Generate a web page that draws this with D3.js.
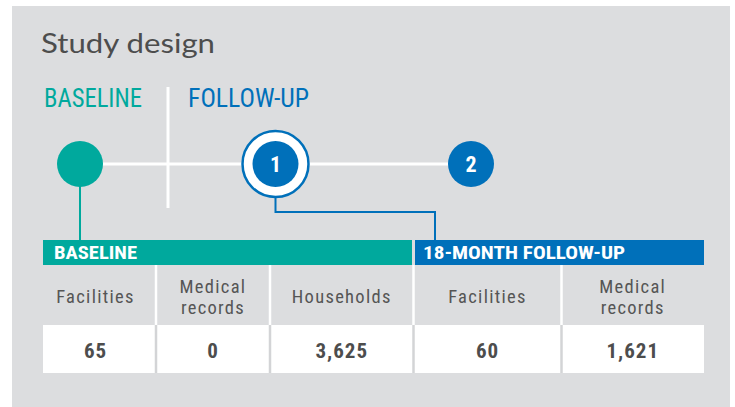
<!DOCTYPE html>
<html><head><meta charset="utf-8">
<script src="https://cdn.jsdelivr.net/npm/d3@7"></script>
<style>
html,body{margin:0;padding:0;background:#fff;}
svg{display:block;}
</style></head>
<body>
<script>
// ---- data ----
const title = "Study design";
const phases = ["BASELINE", "FOLLOW-UP"];
const timepoints = ["baseline", "1", "2"];
const groups = ["BASELINE", "18-MONTH FOLLOW-UP"];
const columnGroup = [0, 0, 0, 1, 1];
const columnLabels = [["Facilities"], ["Medical", "records"], ["Households"], ["Facilities"], ["Medical", "records"]];
const values = [65, 0, 3625, 60, 1621];

// ---- style/layout ----
const W = 735, H = 407;
const TEAL = "#00A99D", BLUE = "#0070BA", PANEL = "#DCDDDF", TXT = "#4D4D4D";
const COND = "'Roboto Condensed','DejaVu Sans Condensed','Liberation Sans Narrow',Roboto,sans-serif";

const svg = d3.select("body").append("svg").attr("width", W).attr("height", H);
svg.append("rect").attr("x", 12).attr("y", 6).attr("width", 718).attr("height", 401).attr("fill", PANEL);

svg.append("text").attr("x", 41).attr("y", 53).text(title)
  .attr("font-family", "Lato,'Noto Sans',sans-serif").attr("font-size", 27).attr("fill", TXT)
  .attr("textLength", 174).attr("lengthAdjust", "spacingAndGlyphs");

// phase labels
const phaseX = [44, 188], phaseW = [98, 121], phaseCol = [TEAL, BLUE];
svg.selectAll("text.phase").data(phases).join("text").attr("class", "phase")
  .attr("x", (d, i) => phaseX[i]).attr("y", 107).text(d => d)
  .attr("font-family", COND).attr("font-size", 26).attr("fill", (d, i) => phaseCol[i])
  .attr("textLength", (d, i) => phaseW[i]).attr("lengthAdjust", "spacingAndGlyphs");

// timeline
const tx = d3.scalePoint().domain(timepoints).range([80, 471]);
const ty = 164;
svg.append("line").attr("x1", tx("baseline")).attr("x2", tx("2")).attr("y1", ty).attr("y2", ty)
  .attr("stroke", "#fff").attr("stroke-width", 3);
svg.append("line").attr("x1", 168).attr("x2", 168).attr("y1", 87).attr("y2", 208)
  .attr("stroke", "#fff").attr("stroke-width", 3);

// connectors
svg.append("line").attr("x1", tx("baseline")).attr("x2", tx("baseline")).attr("y1", ty).attr("y2", 241)
  .attr("stroke", TEAL).attr("stroke-width", 2);
svg.append("path").attr("d", `M${tx("1")},${ty}V212H435V241`).attr("fill", "none")
  .attr("stroke", BLUE).attr("stroke-width", 2);

// circles
svg.append("circle").attr("cx", tx("baseline")).attr("cy", ty).attr("r", 23).attr("fill", TEAL);
svg.append("circle").attr("cx", tx("1")).attr("cy", ty).attr("r", 33).attr("fill", "#fff")
  .attr("stroke", BLUE).attr("stroke-width", 2.5);
["1", "2"].forEach(k => {
  svg.append("circle").attr("cx", tx(k)).attr("cy", ty).attr("r", 23).attr("fill", BLUE);
  svg.append("text").attr("x", tx(k)).attr("y", ty + 8).attr("text-anchor", "middle").text(k)
    .attr("font-family", COND).attr("font-weight", "bold").attr("font-size", 22).attr("fill", "#fff");
});

// table
const edges = [43, 156, 270, 413.5, 561.5, 704];
const groupEdges = [[43, 412], [415, 704]];
const groupCol = [TEAL, BLUE];
const groupTextW = [83, 202];
const hdrY = 240, hdrH = 25, lblY = 265, lblH = 60, valY = 325, valH = 48;

svg.selectAll("rect.grp").data(groups).join("rect").attr("class", "grp")
  .attr("x", (d, i) => groupEdges[i][0]).attr("width", (d, i) => groupEdges[i][1] - groupEdges[i][0])
  .attr("y", hdrY).attr("height", hdrH).attr("fill", (d, i) => groupCol[i]);
svg.selectAll("text.grp").data(groups).join("text").attr("class", "grp")
  .attr("x", (d, i) => groupEdges[i][0] + (i === 0 ? 11 : 8)).attr("y", 259).text(d => d)
  .attr("font-family", COND).attr("font-weight", "bold").attr("font-size", 18).attr("fill", "#fff")
  .attr("textLength", (d, i) => groupTextW[i]).attr("lengthAdjust", "spacingAndGlyphs");

svg.append("rect").attr("x", edges[0]).attr("width", edges[5] - edges[0]).attr("y", valY).attr("height", valH).attr("fill", "#fff");
const inner = edges.slice(1, -1);
svg.selectAll("line.lsep").data(inner).join("line").attr("class", "lsep")
  .attr("x1", d => d).attr("x2", d => d).attr("y1", lblY).attr("y2", valY)
  .attr("stroke", "#fff").attr("stroke-width", 2.5);
svg.selectAll("line.vsep").data(inner).join("line").attr("class", "vsep")
  .attr("x1", d => d).attr("x2", d => d).attr("y1", valY).attr("y2", valY + valH)
  .attr("stroke", "#D3D4D6").attr("stroke-width", 2.5);

const cx = i => (edges[i] + edges[i + 1]) / 2;
const fmt = d3.format(",");
columnLabels.forEach((lines, i) => {
  const t = svg.append("text").attr("text-anchor", "middle")
    .attr("font-family", COND).attr("font-size", 18.5).attr("fill", "#555").attr("letter-spacing", 1.3);
  const y0 = lines.length === 1 ? 303 : 293;
  lines.forEach((l, j) => t.append("tspan").attr("x", cx(i) - (i === 0 ? 4 : 0)).attr("y", y0 + j * 21).text(l));
});
svg.selectAll("text.val").data(values).join("text").attr("class", "val")
  .attr("x", (d, i) => cx(i) - (i === 0 ? 4 : 0)).attr("y", 358).attr("text-anchor", "middle").text(d => fmt(d))
  .attr("font-family", COND).attr("font-weight", "bold").attr("font-size", 21).attr("fill", TXT).attr("letter-spacing", 1);
</script>
</body></html>
